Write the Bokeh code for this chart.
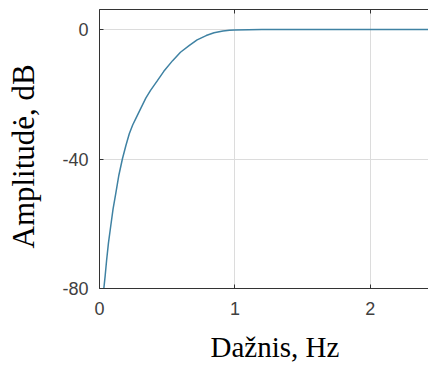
from bokeh.plotting import figure
from bokeh.models import LinearAxis, FixedTicker, Range1d, Title
from bokeh.embed import file_html
from bokeh.resources import INLINE

# Frequency (Hz) and amplitude (dB)
freq = [0.032, 0.042, 0.052, 0.066, 0.082, 0.1, 0.119, 0.143, 0.169, 0.195,
        0.22, 0.245, 0.268, 0.303, 0.342, 0.377, 0.429, 0.475, 0.54, 0.598,
        0.664, 0.721, 0.788, 0.846, 0.912, 0.96, 1.0, 1.1, 1.2, 2.43]
amp = [-80, -76, -71.5, -66, -61, -55.5, -50.9, -45, -40, -35.8,
       -32.2, -29.5, -27.5, -24.5, -21.2, -18.8, -15.7, -12.9, -9.6, -7.0,
       -4.9, -3.2, -1.85, -1.0, -0.45, -0.2, -0.1, -0.03, 0, 0]
x_ticks = [0, 1, 2]
y_ticks = [-80, -40, 0]
y_tick_labels = {-80: "-80", -40: "-40", 0: "0"}
x_title = "Dažnis, Hz"
y_title = "Amplitudė, dB"

p = figure(width=428, height=365, output_backend="svg", toolbar_location=None,
           x_range=Range1d(0, 2.43), y_range=Range1d(-80, 6.2),
           min_border_left=99, min_border_right=0, min_border_top=9,
           min_border_bottom=77)
p.outline_line_color = None
p.background_fill_color = "white"
p.border_fill_color = "white"

p.line(freq, amp, line_color="#3f82a3", line_width=1.5)

for ax in (p.xaxis[0], p.yaxis[0]):
    ax.major_label_text_font = "Liberation Sans"
    ax.major_label_text_font_size = "18px"
    ax.major_label_text_color = "#404040"
    ax.axis_line_color = "#333333"
    ax.major_tick_line_color = "#333333"
    ax.major_tick_in = 4
    ax.major_tick_out = 0
    ax.minor_tick_line_color = None

p.xaxis.ticker = FixedTicker(ticks=x_ticks)
p.yaxis.ticker = FixedTicker(ticks=y_ticks)
p.yaxis.major_label_overrides = y_tick_labels
p.xaxis.major_label_standoff = 13
p.yaxis.major_label_standoff = 11

top = LinearAxis(ticker=FixedTicker(ticks=x_ticks), major_label_text_color=None,
                 major_label_text_font_size="1px",
                 major_tick_in=4, major_tick_out=0, minor_tick_line_color=None,
                 axis_line_color="#333333", major_tick_line_color="#333333",
                 major_label_standoff=0)
p.add_layout(top, "above")


def spacer(ticks, size):
    # an invisible axis used only to reserve space between the tick labels and a title
    return LinearAxis(ticker=FixedTicker(ticks=ticks), axis_line_color=None,
                      major_tick_line_color=None, minor_tick_line_color=None,
                      major_tick_in=0, major_tick_out=size,
                      major_label_text_color=None, major_label_text_font_size="1px",
                      major_label_standoff=0)


p.add_layout(spacer([y_ticks[1]], 18), "left")
p.add_layout(spacer([x_ticks[1]], 8), "below")

p.grid.grid_line_color = "#dcdcdc"
p.grid.grid_line_width = 1

xt = Title(text=x_title, align="left", offset=111, standoff=6,
           text_font="Liberation Serif", text_font_size="29px",
           text_font_style="normal", text_color="black")
yt = Title(text=y_title, align="left", offset=40, standoff=2,
           text_font="Liberation Serif", text_font_size="31px",
           text_font_style="normal", text_color="black")
p.add_layout(xt, "below")
p.add_layout(yt, "left")

open("out.html", "w").write(file_html(p, INLINE))
